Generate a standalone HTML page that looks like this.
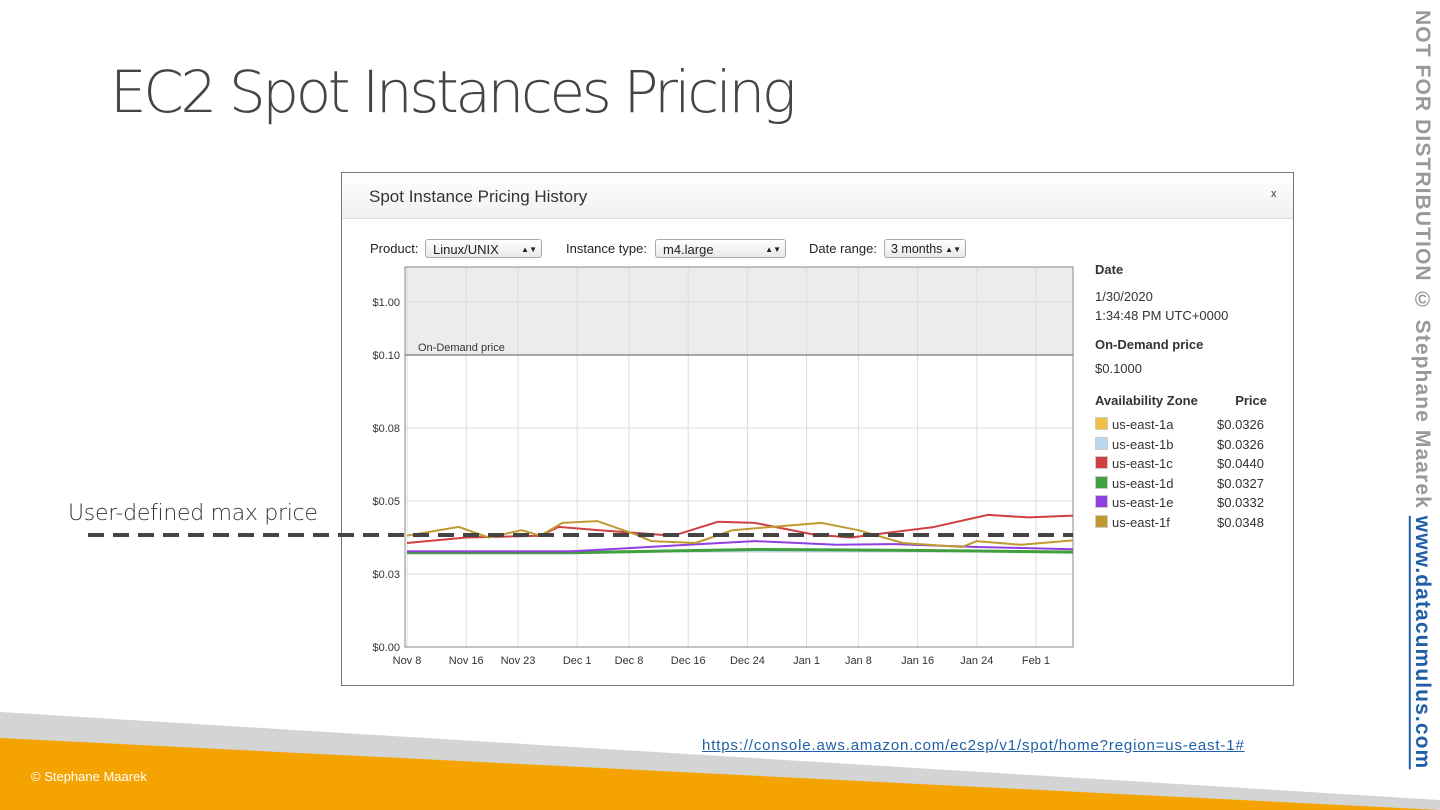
<!DOCTYPE html>
<html><head><meta charset="utf-8"><style>
body{margin:0;width:1440px;height:810px;position:relative;overflow:hidden;background:#fff;font-family:"Liberation Sans",sans-serif}
.abs{position:absolute}
.sel{position:absolute;height:19px;border:1px solid #aaa;border-radius:3px;background:linear-gradient(#fff,#e8e8e8);font-size:13px;line-height:19px;padding-left:7px;box-sizing:border-box;color:#222}
.sel span{position:absolute;right:4px;top:0;font-size:8px}
.lab{position:absolute;font-size:13px;color:#222}
.leg{position:absolute;left:1095px;font-size:13px;color:#333}
.leg i{display:inline-block;width:11px;height:11px;margin-right:4px;vertical-align:-1px;border:1px solid #ccc}
.leg b{position:absolute;left:122px;font-weight:normal}
</style></head><body>
<div class="abs" style="left:110px;top:58px;font-size:58px;color:#444;font-family:'DejaVu Sans',sans-serif;font-weight:200;letter-spacing:-3.4px">EC2 Spot Instances Pricing</div>
<div class="abs" style="left:1404px;top:10px;width:30px;height:775px;writing-mode:vertical-rl;font-size:21px;font-weight:bold;color:#999;white-space:nowrap;letter-spacing:1.1px">NOT FOR DISTRIBUTION © Stephane Maarek <span style="color:#1f5fa8;text-decoration:underline">www.datacumulus.com</span></div>
<div class="abs" style="left:341px;top:172px;width:951px;height:512px;border:1px solid #777;background:#fff"></div>
<div class="abs" style="left:342px;top:173px;width:951px;height:45px;background:linear-gradient(#fff,#f0f0f0);border-bottom:1px solid #ddd"></div>
<div class="abs" style="left:369px;top:187px;font-size:17px;color:#333">Spot Instance Pricing History</div>
<div class="abs" style="left:1271px;top:188px;font-size:11px;color:#333">x</div>
<div class="lab" style="left:370px;top:241px">Product:</div>
<div class="sel" style="left:425px;top:239px;width:117px">Linux/UNIX<span>▲▼</span></div>
<div class="lab" style="left:566px;top:241px">Instance type:</div>
<div class="sel" style="left:655px;top:239px;width:131px">m4.large<span>▲▼</span></div>
<div class="lab" style="left:809px;top:241px">Date range:</div>
<div class="sel" style="left:884px;top:239px;width:82px;font-size:12.5px;padding-left:6px">3 months<span>▲▼</span></div>
<svg class="abs" style="left:0;top:0" width="1440" height="810" id="chart"></svg>
<div class="leg" style="top:262px;font-weight:bold">Date</div>
<div class="leg" style="top:287px;line-height:19px">1/30/2020<br>1:34:48 PM UTC+0000</div>
<div class="leg" style="top:337px;font-weight:bold">On-Demand price</div>
<div class="leg" style="top:361px">$0.1000</div>
<div class="leg" style="top:393px;font-weight:bold;width:172px">Availability Zone<span style="position:absolute;right:0">Price</span></div>
<div id="legend"></div>
<div class="abs" style="left:68px;top:501px;font-size:22px;color:#333;font-family:'DejaVu Sans',sans-serif;font-weight:200;letter-spacing:-0.3px">User-defined max price</div>
<svg class="abs" style="left:0;top:700px" width="1440" height="110">
<polygon points="0,12 1440,100 1440,110 0,110" fill="#d4d4d4"/>
<polygon points="0,38 1440,110 0,110" fill="#f5a300"/>
</svg>
<div class="abs" style="left:31px;top:769px;font-size:13px;color:#fff">© Stephane Maarek</div>
<div class="abs" style="left:702px;top:737px;font-size:15px;color:#1f5fa8;text-decoration:underline;letter-spacing:0.85px">https://console.aws.amazon.com/ec2sp/v1/spot/home?region=us-east-1#</div>
<script>
const xLabels=["Nov 8","Nov 16","Nov 23","Dec 1","Dec 8","Dec 16","Dec 24","Jan 1","Jan 8","Jan 16","Jan 24","Feb 1"];
const xDays=[0,8,15,23,30,38,46,54,61,69,77,85];
const yTicks=[0,0.03,0.05,0.08,0.10];
const yTickLabels=["$0.00","$0.03","$0.05","$0.08","$0.10"];
const zones=["us-east-1a","us-east-1b","us-east-1c","us-east-1d","us-east-1e","us-east-1f"];
const zoneColors=["#f0c040","#b8d8f0","#d04040","#40a040","#9040e0","#c09a30"];
const zonePrices=["$0.0326","$0.0326","$0.0440","$0.0327","$0.0332","$0.0348"];
const dDays=[0,8,18,20.5,26,36,42,47,55,60,65,71,78.5,84,90];
const s1c=[0.0385,0.040,0.0405,0.0429,0.042,0.0405,0.0443,0.044,0.0408,0.040,0.0413,0.0428,0.0462,0.0455,0.046];
const fDays=[0,7,11,15.5,18,21,25.7,30.7,33,39,44,50,56,61,67,75,77,83,90];
const s1f=[0.0405,0.0429,0.040,0.042,0.0405,0.044,0.0445,0.041,0.039,0.0385,0.042,0.043,0.044,0.042,0.0385,0.0374,0.039,0.038,0.0392];
const eDays=[0,22,38,47,58,66,77,90];
const s1e=[0.0362,0.0362,0.038,0.039,0.038,0.0382,0.0374,0.0368];
const s1d=[0.0358,0.0358,0.0364,0.0367,0.0366,0.0365,0.0363,0.036];
const s1b=[0.0362,0.0362,0.0362,0.0362,0.0362,0.0362,0.0362,0.0362];
const maxPrice=0.0407;
const L=405,R=1073,T=267,B=647;
const yPos=[647,574,501,428,355];
function xs(d){return 407+d*7.4;}
function ys(v){if(v>=0.10)return 355-(v-0.10)/0.9*53;for(let i=0;i<yTicks.length-1;i++){if(v<=yTicks[i+1]){return yPos[i]+(v-yTicks[i])/(yTicks[i+1]-yTicks[i])*(yPos[i+1]-yPos[i]);}}}
const svg=document.getElementById('chart');const NS='http://www.w3.org/2000/svg';
function mk(t,a){const e=document.createElementNS(NS,t);for(const k in a)e.setAttribute(k,a[k]);svg.appendChild(e);return e;}
let e=mk('rect',{x:L,y:T,width:R-L,height:355-T,fill:'#ececec'});


for(let i=0;i<xDays.length;i++){const x=xs(xDays[i]);
e=mk('line',{x1:x,x2:x,y1:T,y2:B,stroke:'#ddd'});


e=mk('text',{x:x,y:B+17,'font-size':11,'text-anchor':'middle',fill:'#333','font-family':'Liberation Sans'});e.textContent=xLabels[i];

}
e=mk('line',{x1:L,x2:R,y1:302,y2:302,stroke:'#ddd'});


e=mk('text',{x:400,y:306,'font-size':11,'text-anchor':'end',fill:'#333','font-family':'Liberation Sans'});e.textContent='$1.00';


for(let i=0;i<yTicks.length;i++){const y=ys(yTicks[i]);
e=mk('line',{x1:L,x2:R,y1:y,y2:y,stroke:i==4?'#555':'#ddd'});


e=mk('text',{x:400,y:y+4,'font-size':11,'text-anchor':'end',fill:'#333','font-family':'Liberation Sans'});e.textContent=yTickLabels[i];

}
e=mk('text',{x:418,y:351,'font-size':11,fill:'#333','font-family':'Liberation Sans'});e.textContent='On-Demand price';


e=mk('rect',{x:L,y:T,width:R-L,height:B-T,fill:'none',stroke:'#888'});


function line(days,vals,col,name,w){const p=days.map((d,i)=>xs(d).toFixed(1)+','+ys(vals[i]).toFixed(1)).join(' ');
const el=mk('polyline',{points:p,fill:'none',stroke:col,'stroke-width':w||2,'stroke-linejoin':'round'});

}
line(eDays,s1b,zoneColors[0],'series-us-east-1a',2);
line(eDays,s1b,zoneColors[1],'series-us-east-1b',2);
line(eDays,s1d,zoneColors[3],'series-us-east-1d',3);
line(eDays,s1e,zoneColors[4],'series-us-east-1e',2);
line(dDays,s1c,zoneColors[2],'series-us-east-1c',2);
line(fDays,s1f,zoneColors[5],'series-us-east-1f',2);
e=mk('line',{x1:88,x2:1073,y1:ys(maxPrice),y2:ys(maxPrice),stroke:'#444','stroke-width':4,'stroke-dasharray':'16,9'});


const lg=document.getElementById('legend');
zones.forEach((z,i)=>{const d=document.createElement('div');d.className='leg';d.style.top=(417+i*19.5)+'px';
d.innerHTML='<i style="background:'+zoneColors[i]+'"></i>'+z+'<b>'+zonePrices[i]+'</b>';


lg.appendChild(d);});
</script>
</body></html>
